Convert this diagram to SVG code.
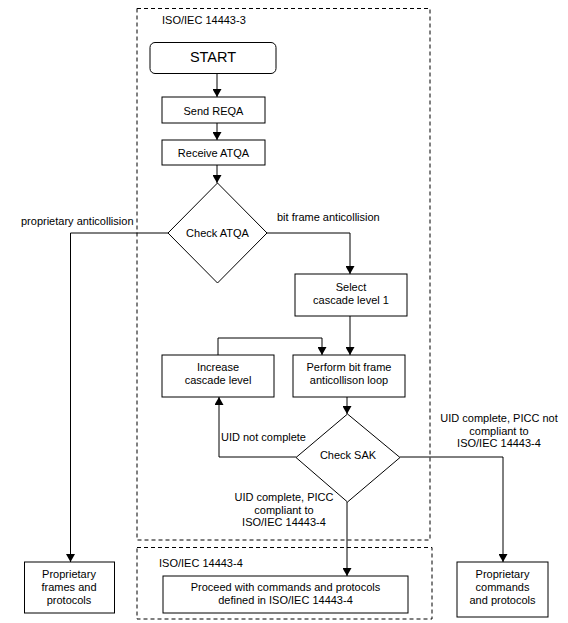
<svg xmlns="http://www.w3.org/2000/svg" width="568" height="623" viewBox="0 0 568 623">
<defs>
<marker id="arr" markerWidth="8" markerHeight="9" refX="8" refY="4.5" orient="auto" markerUnits="userSpaceOnUse">
<path d="M0,0 L8,4.5 L0,9 Z" fill="#000"/>
</marker>
<style>
text{font-family:"Liberation Sans",Arial,sans-serif;font-size:11px;fill:#000}
.c{text-anchor:middle}
.box{fill:#fff;stroke:#000;stroke-width:1}
.dash{fill:none;stroke:#000;stroke-width:1;stroke-dasharray:4,3}
.ln{fill:none;stroke:#000;stroke-width:1}
</style>
</defs>
<rect width="568" height="623" fill="#fff"/>
<g id="region-14443-3">
<rect class="dash" x="137" y="8.5" width="293" height="531.5"/>
<text x="162" y="24">ISO/IEC 14443-3</text>
</g>
<g id="region-14443-4">
<rect class="dash" x="137" y="547.5" width="295" height="71.5"/>
<text x="159" y="567">ISO/IEC 14443-4</text>
</g>
<g id="connectors">
<path class="ln" d="M217,74 V97" marker-end="url(#arr)"/>
<path class="ln" d="M217,123 V140" marker-end="url(#arr)"/>
<path class="ln" d="M217,165 V183" marker-end="url(#arr)"/>
<path class="ln" d="M168,233 H70.5 V562" marker-end="url(#arr)"/>
<path class="ln" d="M267,233 H350 V274" marker-end="url(#arr)"/>
<path class="ln" d="M350,316 V355" marker-end="url(#arr)"/>
<path class="ln" d="M218,355 V338 H322 V355" marker-end="url(#arr)"/>
<path class="ln" d="M347,397 V414" marker-end="url(#arr)"/>
<path class="ln" d="M296,457 H219 V397" marker-end="url(#arr)"/>
<path class="ln" d="M400,457 H503 V562" marker-end="url(#arr)"/>
<path class="ln" d="M347,502 V576" marker-end="url(#arr)"/>
<text x="21" y="225">proprietary anticollision</text>
<text x="277" y="221">bit frame anticollision</text>
<text x="221" y="441">UID not complete</text>
<text class="c" x="499" y="422">UID complete, PICC not</text>
<text class="c" x="499" y="434.5">compliant to</text>
<text class="c" x="499" y="447">ISO/IEC 14443-4</text>
<text class="c" x="284" y="501">UID complete, PICC</text>
<text class="c" x="284" y="513.5">compliant to</text>
<text class="c" x="284" y="526">ISO/IEC 14443-4</text>
</g>
<g id="start">
<rect class="box" x="150" y="42.5" width="126" height="31" rx="5"/>
<text class="c" x="213" y="61.5" style="font-size:14.5px">START</text>
</g>
<g id="send-reqa">
<rect class="box" x="162" y="97" width="103" height="26"/>
<text class="c" x="213.5" y="114.5">Send REQA</text>
</g>
<g id="receive-atqa">
<rect class="box" x="162" y="140" width="103" height="25"/>
<text class="c" x="213.5" y="157">Receive ATQA</text>
</g>
<g id="check-atqa">
<polygon class="box" points="217.5,183 267,233 217.5,283 168,233"/>
<text class="c" x="217.5" y="237">Check ATQA</text>
</g>
<g id="select-cascade">
<rect class="box" x="295" y="274" width="112" height="42"/>
<text class="c" x="351" y="291">Select</text>
<text class="c" x="351" y="303.5">cascade level 1</text>
</g>
<g id="increase-cascade">
<rect class="box" x="162" y="355" width="112" height="42"/>
<text class="c" x="218" y="371">Increase</text>
<text class="c" x="218" y="383.5">cascade level</text>
</g>
<g id="perform-loop">
<rect class="box" x="293" y="355" width="112" height="42"/>
<text class="c" x="349" y="371">Perform bit frame</text>
<text class="c" x="349" y="383.5">anticollison loop</text>
</g>
<g id="check-sak">
<polygon class="box" points="347.5,414 400,457.5 347.5,502 296,457.5"/>
<text class="c" x="348" y="459">Check SAK</text>
</g>
<g id="proprietary-frames">
<rect class="box" x="24.5" y="562" width="90" height="51"/>
<text class="c" x="69" y="578">Proprietary</text>
<text class="c" x="69" y="591">frames and</text>
<text class="c" x="69" y="603.5">protocols</text>
</g>
<g id="proceed">
<rect class="box" x="163" y="576" width="245" height="37"/>
<text class="c" x="285.5" y="591">Proceed with commands and protocols</text>
<text class="c" x="285.5" y="604">defined in ISO/IEC 14443-4</text>
</g>
<g id="proprietary-commands">
<rect class="box" x="457" y="562" width="91" height="55"/>
<text class="c" x="502.5" y="578">Proprietary</text>
<text class="c" x="502.5" y="591">commands</text>
<text class="c" x="502.5" y="604">and protocols</text>
</g>
</svg>
